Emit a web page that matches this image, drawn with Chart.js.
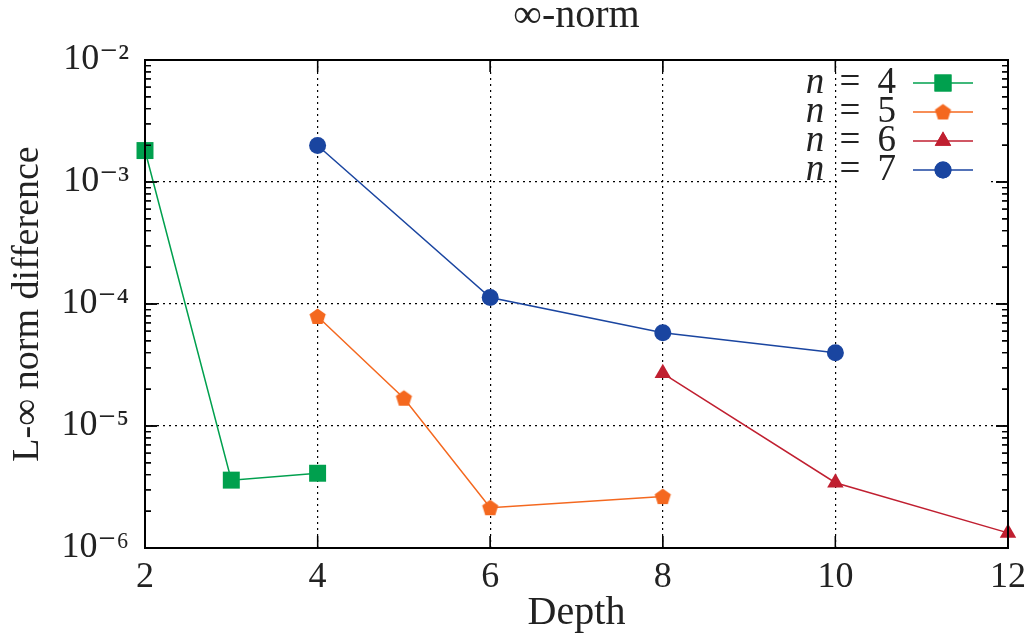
<!DOCTYPE html>
<html lang="en">
<head>
    <title>Infinity norm</title>
    <script src="https://cdn.jsdelivr.net/npm/chart.js"></script>
    <style>
        body { margin: 0; background: #fff; }
        #wrap { width: 1029px; height: 637px; }
    </style>
</head>
<body>
    <div id="wrap"><canvas id="normChart" width="1029" height="637"></canvas></div>

    <script>
        // data
        const depthN4 = [2, 3, 4];
        const errN4 = [1.81e-3, 3.6e-6, 4.1e-6];
        const depthN5 = [4, 5, 6, 8];
        const errN5 = [7.9e-5, 1.69e-5, 2.14e-6, 2.64e-6];
        const depthN6 = [8, 10, 12];
        const errN6 = [2.7e-5, 3.43e-6, 1.33e-6];
        const depthN7 = [4, 6, 8, 10];
        const errN7 = [1.99e-3, 1.13e-4, 5.82e-5, 3.99e-5];
        const nValues = [4, 5, 6, 7];
        const xTicks = [2, 4, 6, 8, 10, 12];
        const yDecades = [-6, -5, -4, -3, -2];
        const chartTitle = '∞-norm';

        const colors = ['#00a04e', '#f4681f', '#c01f30', '#1a45a0'];
        const serif = '"Liberation Serif", "DejaVu Serif", serif';
        const textColor = '#222';

        const pairs = (xs, ys) => xs.map((x, i) => ({ x: x, y: ys[i] }));

        // pentagon marker (no built-in style for it)
        function makePentagon(color, r) {
            const c = document.createElement('canvas');
            c.width = c.height = Math.ceil(r * 2 + 2);
            const g = c.getContext('2d');
            const cx = c.width / 2, cy = c.height / 2 + 0.5;
            g.beginPath();
            for (let k = 0; k < 5; k++) {
                const a = -Math.PI / 2 + k * 2 * Math.PI / 5;
                const px = cx + r * Math.cos(a), py = cy + r * Math.sin(a);
                if (k === 0) g.moveTo(px, py); else g.lineTo(px, py);
            }
            g.closePath();
            g.fillStyle = color;
            g.fill();
            return c;
        }
        const pentagon = makePentagon(colors[1], 8.5);

        const isDecade = v => Math.abs(Math.log10(v) - Math.round(Math.log10(v))) < 1e-6;
        const supDigits = { '-': '⁻', '0': '⁰', '1': '¹', '2': '²', '3': '³', '4': '⁴', '5': '⁵', '6': '⁶', '7': '⁷', '8': '⁸', '9': '⁹' };

        function drawFrame(chart) {
            const { ctx, chartArea: a, scales } = chart;
            const ys = scales.y, xs = scales.x;
            ctx.save();
            ctx.strokeStyle = '#000';
            ctx.lineWidth = 1.3;
            ctx.beginPath();
            yDecades.forEach(d => {
                const y0 = ys.getPixelForValue(Math.pow(10, d));
                ctx.moveTo(a.left, y0); ctx.lineTo(a.left + 12, y0);
                ctx.moveTo(a.right, y0); ctx.lineTo(a.right - 12, y0);
                if (d < -2) {
                    for (let k = 2; k <= 9; k++) {
                        const y = ys.getPixelForValue(k * Math.pow(10, d));
                        ctx.moveTo(a.left, y); ctx.lineTo(a.left + 6, y);
                        ctx.moveTo(a.right, y); ctx.lineTo(a.right - 6, y);
                    }
                }
            });
            xTicks.forEach(t => {
                const x = xs.getPixelForValue(t);
                ctx.moveTo(x, a.bottom); ctx.lineTo(x, a.bottom - 12);
                ctx.moveTo(x, a.top); ctx.lineTo(x, a.top + 12);
            });
            ctx.stroke();
            ctx.lineWidth = 2;
            ctx.strokeRect(a.left, a.top, a.right - a.left, a.bottom - a.top);
            ctx.restore();
        }

        // frame, inner tick marks, title, legend
        const framePlugin = {
            id: 'frame',
            beforeDatasetsDraw(chart) {
                const { ctx, chartArea: a } = chart;
                // legend box hides the grid behind it
                ctx.save();
                ctx.fillStyle = '#fff';
                ctx.fillRect(837, a.top + 1, a.right - 838 - 16, 127);
                ctx.restore();
                drawFrame(chart);
            },
            afterDraw(chart) {
                const { ctx, chartArea: a } = chart;
                drawFrame(chart);
                ctx.save();
                ctx.fillStyle = textColor;
                ctx.textBaseline = 'middle';
                ctx.textAlign = 'center';
                ctx.font = '40px ' + serif;
                ctx.fillText(chartTitle, (a.left + a.right) / 2, 16);

                chart.data.datasets.forEach((ds, i) => {
                    const y = 83 + i * 29;
                    ctx.font = 'italic 37px ' + serif;
                    ctx.textAlign = 'center';
                    ctx.fillText('n', 815, y);
                    ctx.font = '37px ' + serif;
                    ctx.fillText('=', 850, y);
                    ctx.textAlign = 'right';
                    ctx.fillText(String(nValues[i]), 896, y);
                    ctx.strokeStyle = ds.borderColor;
                    ctx.lineWidth = 1.5;
                    ctx.beginPath();
                    ctx.moveTo(913, y); ctx.lineTo(973, y);
                    ctx.stroke();
                    ctx.fillStyle = ds.backgroundColor;
                    Chart.helpers.drawPoint(ctx, {
                        pointStyle: ds.pointStyle,
                        radius: ds.pointRadius,
                        borderWidth: 0
                    }, 943, y);
                    if (ds.pointStyle !== pentagon) ctx.fill();
                    ctx.fillStyle = textColor;
                });
                ctx.restore();
            }
        };

        const makeSet = (i, xs, ys, style, radius) => ({
            label: 'n = ' + nValues[i],
            data: pairs(xs, ys),
            borderColor: colors[i],
            backgroundColor: colors[i],
            borderWidth: 1.5,
            pointStyle: style,
            pointRadius: radius,
            pointHoverRadius: radius,
            pointBorderWidth: 0,
            showLine: true,
            tension: 0,
            clip: false
        });

        const normCtx = document.getElementById('normChart').getContext('2d');
        const normChart = new Chart(normCtx, {
            type: 'scatter',
            data: {
                datasets: [
                    makeSet(0, depthN4, errN4, 'rect', 12),
                    makeSet(1, depthN5, errN5, pentagon, 8.5),
                    makeSet(2, depthN6, errN6, 'triangle', 9.5),
                    makeSet(3, depthN7, errN7, 'circle', 8.5)
                ]
            },
            options: {
                responsive: false,
                animation: false,
                layout: { padding: { top: 60, right: 21, bottom: 0, left: 0 } },
                plugins: {
                    legend: { display: false },
                    tooltip: { enabled: false },
                    title: { display: false }
                },
                scales: {
                    x: {
                        type: 'linear',
                        min: 2,
                        max: 12,
                        afterBuildTicks: scale => { scale.ticks = xTicks.map(v => ({ value: v })); },
                        ticks: {
                            color: textColor,
                            font: { family: serif, size: 36 },
                            padding: 8
                        },
                        grid: { color: '#000', lineWidth: 1.2, drawTicks: false },
                        border: { display: false, dash: [2, 4] },
                        title: {
                            display: true,
                            text: 'Depth',
                            color: textColor,
                            font: { family: serif, size: 40 },
                            padding: { top: 0, bottom: 0 }
                        },
                        afterFit: scale => {
                            scale.height = 89;
                            scale.paddingLeft = 0;
                            scale.paddingRight = 0;
                        }
                    },
                    y: {
                        type: 'logarithmic',
                        min: 1e-6,
                        max: 1e-2,
                        ticks: {
                            autoSkip: false,
                            color: textColor,
                            font: { family: serif, size: 36 },
                            padding: 16,
                            callback: v => isDecade(v)
                                ? '10' + String(Math.round(Math.log10(v))).split('').map(c => supDigits[c]).join('')
                                : ''
                        },
                        grid: {
                            color: c => (c.tick && isDecade(c.tick.value)) ? '#000' : 'rgba(0,0,0,0)',
                            lineWidth: 1.2,
                            drawTicks: false
                        },
                        border: { display: false, dash: [2, 4] },
                        title: {
                            display: true,
                            text: 'L-∞ norm difference',
                            color: textColor,
                            font: { family: serif, size: 38 },
                            padding: { top: 5, bottom: 0 }
                        },
                        afterFit: scale => {
                            scale.width = 145;
                            scale.paddingTop = 0;
                            scale.paddingBottom = 0;
                        }
                    }
                }
            },
            plugins: [framePlugin]
        });
    </script>
</body>
</html>
